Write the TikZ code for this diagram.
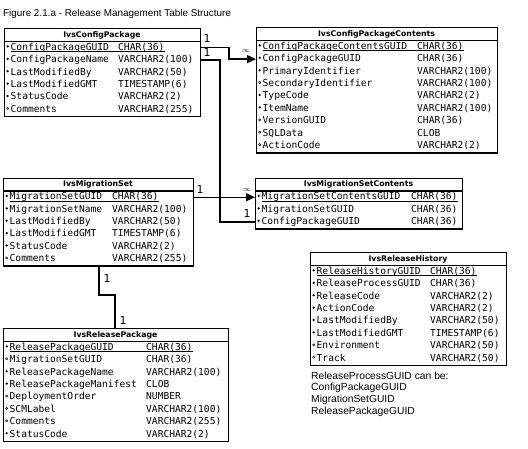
\documentclass[tikz,border=0pt]{standalone}
\usepackage{fontspec}
\setmainfont{Liberation Sans}
\newfontfamily\monof{DejaVu Sans Mono}
\newfontfamily\headf{DejaVu Sans}
\usetikzlibrary{arrows.meta}
\newcommand\rowfont{\monof\fontsize{9.6}{11}\selectfont}
\tikzset{
  tbox/.style={draw=black, line width=1.4pt, inner sep=0pt, fill=white},
  hline/.style={line width=1.1pt},
  headtext/.style={font=\headf\bfseries\fontsize{7.8}{9}\selectfont, inner sep=0pt},
  rowtext/.style={font=\rowfont, inner sep=0pt, anchor=west, text height=7pt, text depth=2pt, text=black},
  conn/.style={line width=1.3pt, draw=black},
  arr/.style={-{Triangle[length=9pt,width=8pt]}},
  card/.style={font=\headf\fontsize{11}{11}\selectfont, inner sep=0pt, text=black},
  inf/.style={font=\fontsize{7.5}{7.5}\selectfont, inner sep=0pt},
  plain/.style={inner sep=0pt, anchor=west, text=black}
}
% id, x, y, w, nrows, typecol, title
\newcommand\dbtable[7]{%
  \def\tx{#2}\def\ty{#3}\def\tc{#6}%
  \pgfmathsetmacro\th{13.5+12.4*#5}%
  \node[tbox, minimum width=#4pt, minimum height=\th pt, anchor=north west] (#1) at (#2,#3) {};
  \node[headtext] (#1-h) at ({#2+#4/2},{#3+7}) {#7};
  \draw[hline] (#2,{#3+13.5}) -- ({#2+#4},{#3+13.5});
}
% id, i, bullet, name, type
\newcommand\dbrow[5]{%
  \pgfmathsetmacro\ry{\ty+13.5+12.4*(#2-0.5)}%
  \node[rowtext] (#1-n#2) at ({\tx+6.5},\ry) {#4};
  \node[rowtext] (#1-t#2) at (\tc,\ry) {#5};
  \ifx f#3\fill[black] ({\tx+3.7},{\ry-1.3}) circle[radius=1.25pt];\else\draw[line width=0.5pt, black] ({\tx+3.7},{\ry-1.3}) circle[radius=1.1pt];\fi
}
\newcommand\dbul[2]{\draw[line width=0.6pt, black] ([yshift=-1.4pt]#1-n#2.base west) -- ([yshift=-1.4pt]#1-t#2.base east);}
\begin{document}
\begin{tikzpicture}[x=1pt,y=-1pt]
\fill[white] (0,0) rectangle (528,448);
\useasboundingbox (0,0) rectangle (528,448);

\node[plain, font=\fontsize{9.9}{11}\selectfont] (title) at (3,14) {Figure 2.1.a - Release Management Table Structure};

% IvsConfigPackage
\dbtable{cp}{4}{28}{196}{6}{118}{IvsConfigPackage}
\dbrow{cp}{1}{f}{ConfigPackageGUID}{CHAR(36)}
\dbrow{cp}{2}{f}{ConfigPackageName}{VARCHAR2(100)}
\dbrow{cp}{3}{f}{LastModifiedBy}{VARCHAR2(50)}
\dbrow{cp}{4}{f}{LastModifiedGMT}{TIMESTAMP(6)}
\dbrow{cp}{5}{f}{StatusCode}{VARCHAR2(2)}
\dbrow{cp}{6}{o}{Comments}{VARCHAR2(255)}
\dbul{cp}{1}

% IvsConfigPackageContents
\dbtable{cpc}{256}{27}{241}{9}{417}{IvsConfigPackageContents}
\dbrow{cpc}{1}{f}{ConfigPackageContentsGUID}{CHAR(36)}
\dbrow{cpc}{2}{f}{ConfigPackageGUID}{CHAR(36)}
\dbrow{cpc}{3}{f}{PrimaryIdentifier}{VARCHAR2(100)}
\dbrow{cpc}{4}{o}{SecondaryIdentifier}{VARCHAR2(100)}
\dbrow{cpc}{5}{f}{TypeCode}{VARCHAR2(2)}
\dbrow{cpc}{6}{f}{ItemName}{VARCHAR2(100)}
\dbrow{cpc}{7}{o}{VersionGUID}{CHAR(36)}
\dbrow{cpc}{8}{o}{SQLData}{CLOB}
\dbrow{cpc}{9}{o}{ActionCode}{VARCHAR2(2)}
\dbul{cpc}{1}

% IvsMigrationSet
\dbtable{ms}{3}{177.5}{190}{6}{112}{IvsMigrationSet}
\dbrow{ms}{1}{f}{MigrationSetGUID}{CHAR(36)}
\dbrow{ms}{2}{f}{MigrationSetName}{VARCHAR2(100)}
\dbrow{ms}{3}{f}{LastModifiedBy}{VARCHAR2(50)}
\dbrow{ms}{4}{f}{LastModifiedGMT}{TIMESTAMP(6)}
\dbrow{ms}{5}{f}{StatusCode}{VARCHAR2(2)}
\dbrow{ms}{6}{o}{Comments}{VARCHAR2(255)}
\dbul{ms}{1}

% IvsMigrationSetContents
\dbtable{msc}{255}{177.5}{207}{3}{411}{IvsMigrationSetContents}
\dbrow{msc}{1}{f}{MigrationSetContentsGUID}{CHAR(36)}
\dbrow{msc}{2}{f}{MigrationSetGUID}{CHAR(36)}
\dbrow{msc}{3}{f}{ConfigPackageGUID}{CHAR(36)}
\dbul{msc}{1}

% IvsReleaseHistory
\dbtable{rh}{310}{252}{196}{8}{430}{IvsReleaseHistory}
\dbrow{rh}{1}{f}{ReleaseHistoryGUID}{CHAR(36)}
\dbrow{rh}{2}{f}{ReleaseProcessGUID}{CHAR(36)}
\dbrow{rh}{3}{f}{ReleaseCode}{VARCHAR2(2)}
\dbrow{rh}{4}{f}{ActionCode}{VARCHAR2(2)}
\dbrow{rh}{5}{f}{LastModifiedBy}{VARCHAR2(50)}
\dbrow{rh}{6}{f}{LastModifiedGMT}{TIMESTAMP(6)}
\dbrow{rh}{7}{o}{Environment}{VARCHAR2(50)}
\dbrow{rh}{8}{o}{Track}{VARCHAR2(50)}
\dbul{rh}{1}

% IvsReleasePackage
\dbtable{rp}{3}{328}{225}{8}{146}{IvsReleasePackage}
\dbrow{rp}{1}{f}{ReleasePackageGUID}{CHAR(36)}
\dbrow{rp}{2}{o}{MigrationSetGUID}{CHAR(36)}
\dbrow{rp}{3}{f}{ReleasePackageName}{VARCHAR2(100)}
\dbrow{rp}{4}{f}{ReleasePackageManifest}{CLOB}
\dbrow{rp}{5}{o}{DeploymentOrder}{NUMBER}
\dbrow{rp}{6}{o}{SCMLabel}{VARCHAR2(100)}
\dbrow{rp}{7}{o}{Comments}{VARCHAR2(255)}
\dbrow{rp}{8}{f}{StatusCode}{VARCHAR2(2)}
\dbul{rp}{1}

% note
\node[plain, font=\fontsize{10.3}{11}\selectfont] (note1) at (311,376) {ReleaseProcessGUID can be:};
\node[plain, font=\fontsize{10.3}{11}\selectfont] (note2) at (311,388) {ConfigPackageGUID};
\node[plain, font=\fontsize{10.3}{11}\selectfont] (note3) at (311,400) {MigrationSetGUID};
\node[plain, font=\fontsize{10.3}{11}\selectfont] (note4) at (311,412) {ReleasePackageGUID};

% connectors
\coordinate (j1) at (229,0);
\coordinate (j2) at (220,0);
\coordinate (j4) at (99,295);
\coordinate (j5) at (115,295);
\draw[conn,arr] (cp.east |- cp-n1) -| (j1 |- cpc-n2) -- (cpc.west |- cpc-n2);
\draw[conn] (cp.east |- cp-n2) -| (j2 |- msc-n3) -- (msc.west |- msc-n3);
\draw[conn,arr] (ms.east |- msc-n1) -- (msc.west |- msc-n1);
\draw[conn] (j4 |- ms.south) -- (j4) -- (j5) -- (j5 |- rp.north);

% cardinality labels
\node[card] (l1) at (207,38) {1};
\node[card] (l2) at (207,52.5) {1};
\node[inf] (i1) at (246,51) {$\infty$};
\node[card] (l3) at (200,189) {1};
\node[inf] (i2) at (247,190) {$\infty$};
\node[card] (l4) at (247,213) {1};
\node[card] (l5) at (107,278) {1};
\node[card] (l6) at (123,320) {1};
\end{tikzpicture}
\end{document}
